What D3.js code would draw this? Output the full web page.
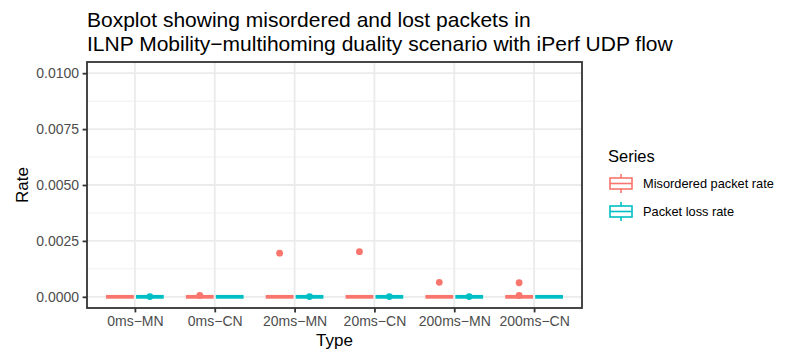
<!DOCTYPE html>
<html>
<head>
<meta charset="utf-8">
<script src="https://cdn.jsdelivr.net/npm/d3@7"></script>
<style>
  body { margin: 0; background: #fff; }
  text { font-family: "Liberation Sans", Arial, Helvetica, sans-serif; }
</style>
</head>
<body>
<div id="chart"></div>
<script>
// categories on the x axis
var types = ['0ms-MN', '0ms-CN', '20ms-MN', '20ms-CN', '200ms-MN', '200ms-CN'];
var seriesNames = ['Misordered packet rate', 'Packet loss rate'];
var seriesColors = ['#F8766D', '#00BFC4'];

// observed rates per run (mostly zero, a few non-zero runs)
var misordered = [
  [0, 0, 0, 0, 0, 0, 0, 0, 0, 0],
  [0, 0, 0, 0, 0, 0, 0, 0, 0, 0.00006],
  [0, 0, 0, 0, 0, 0, 0, 0, 0, 0.00195],
  [0, 0, 0, 0, 0, 0, 0, 0, 0, 0.00202],
  [0, 0, 0, 0, 0, 0, 0, 0, 0, 0.00065],
  [0, 0, 0, 0, 0, 0, 0, 0, 0.00006, 0.00063]
];
var packetLoss = [
  [0, 0, 0, 0, 0, 0, 0, 0, 0, 0.00001],
  [0, 0, 0, 0, 0, 0, 0, 0, 0, 0],
  [0, 0, 0, 0, 0, 0, 0, 0, 0, 0.00001],
  [0, 0, 0, 0, 0, 0, 0, 0, 0, 0.00001],
  [0, 0, 0, 0, 0, 0, 0, 0, 0, 0.00001],
  [0, 0, 0, 0, 0, 0, 0, 0, 0, 0]
];
var yTicks = [0, 0.0025, 0.005, 0.0075, 0.01];
var yMinor = [0.00125, 0.00375, 0.00625, 0.00875];

var width = 787, height = 351;
var panel = {left: 87, right: 582, top: 62, bottom: 308};

var svg = d3.select('#chart').append('svg')
  .attr('width', width)
  .attr('height', height);

var x = d3.scalePoint()
  .domain(types)
  .range([panel.left, panel.right])
  .padding(0.6);

var y = d3.scaleLinear()
  .domain([-0.0005, 0.0105])
  .range([panel.bottom, panel.top]);

//grid
var grid = svg.append('g');
grid.selectAll('.minor')
  .data(yMinor)
  .enter().append('line')
    .attr('x1', panel.left).attr('x2', panel.right)
    .attr('y1', function(d) { return y(d); })
    .attr('y2', function(d) { return y(d); })
    .attr('stroke', '#F0F0F0')
    .attr('stroke-width', 1);
grid.selectAll('.major-y')
  .data(yTicks)
  .enter().append('line')
    .attr('x1', panel.left).attr('x2', panel.right)
    .attr('y1', function(d) { return y(d); })
    .attr('y2', function(d) { return y(d); })
    .attr('stroke', '#EBEBEB')
    .attr('stroke-width', 1.8);
grid.selectAll('.major-x')
  .data(types)
  .enter().append('line')
    .attr('y1', panel.top).attr('y2', panel.bottom)
    .attr('x1', function(d) { return x(d); })
    .attr('x2', function(d) { return x(d); })
    .attr('stroke', '#EBEBEB')
    .attr('stroke-width', 1.8);

//boxplots
var step = x.step();
var boxW = 26;
var allSeries = [misordered, packetLoss];

function boxStats(values) {
  var v = values.slice().sort(d3.ascending);
  var q1 = d3.quantile(v, 0.25), med = d3.quantile(v, 0.5), q3 = d3.quantile(v, 0.75);
  var iqr = q3 - q1;
  var lo = q1 - 1.5 * iqr, hi = q3 + 1.5 * iqr;
  var inside = v.filter(function(d) { return d >= lo && d <= hi; });
  return {
    q1: q1, med: med, q3: q3,
    wlo: d3.min(inside), whi: d3.max(inside),
    out: v.filter(function(d) { return d < lo || d > hi; })
  };
}

allSeries.forEach(function(series, si) {
  var offset = (si === 0 ? -1 : 1) * step * 0.1875;
  var color = seriesColors[si];
  var g = svg.append('g');
  series.forEach(function(values, i) {
    var s = boxStats(values);
    var cx = x(types[i]) + offset;
    g.append('line')
      .attr('x1', cx).attr('x2', cx)
      .attr('y1', y(s.whi)).attr('y2', y(s.q3))
      .attr('stroke', color).attr('stroke-width', 1.8);
    g.append('line')
      .attr('x1', cx).attr('x2', cx)
      .attr('y1', y(s.q1)).attr('y2', y(s.wlo))
      .attr('stroke', color).attr('stroke-width', 1.8);
    g.append('rect')
      .attr('x', cx - boxW / 2)
      .attr('y', y(s.q3))
      .attr('width', boxW)
      .attr('height', y(s.q1) - y(s.q3))
      .attr('fill', 'white')
      .attr('stroke', color)
      .attr('stroke-width', 1.8);
    g.append('line')
      .attr('x1', cx - boxW / 2 - 0.9).attr('x2', cx + boxW / 2 + 0.9)
      .attr('y1', y(s.med)).attr('y2', y(s.med))
      .attr('stroke', color).attr('stroke-width', 3.8);
    g.selectAll('.outlier-' + si + '-' + i)
      .data(s.out)
      .enter().append('circle')
        .attr('cx', cx)
        .attr('cy', function(d) { return y(d); })
        .attr('r', 3.4)
        .attr('fill', color);
  });
});

//panel border
svg.append('rect')
  .attr('x', panel.left).attr('y', panel.top)
  .attr('width', panel.right - panel.left)
  .attr('height', panel.bottom - panel.top)
  .attr('fill', 'none')
  .attr('stroke', '#333333')
  .attr('stroke-width', 1.8);

//axes
var xAxis = svg.append('g')
  .attr('transform', 'translate(0,' + panel.bottom + ')')
  .call(d3.axisBottom(x).tickSize(4.4).tickPadding(3.5));
var yAxis = svg.append('g')
  .attr('transform', 'translate(' + panel.left + ',0)')
  .call(d3.axisLeft(y).tickValues(yTicks).tickSize(4.4).tickPadding(3.5)
    .tickFormat(d3.format('.4f')));
[xAxis, yAxis].forEach(function(a) {
  a.select('.domain').remove();
  a.selectAll('.tick line').attr('stroke', '#333333').attr('stroke-width', 1.8);
  a.selectAll('.tick text')
    .attr('fill', '#4D4D4D')
    .style('font-size', '14px')
    .text(function() { return d3.select(this).text().replace(/-/g, '\u2212'); });
});

//titles
svg.append('text')
  .attr('x', panel.left).attr('y', 27)
  .style('font-size', '21px')
  .text('Boxplot showing misordered and lost packets in');
svg.append('text')
  .attr('x', panel.left).attr('y', 51)
  .style('font-size', '21px')
  .text('ILNP Mobility\u2212multihoming duality scenario with iPerf UDP flow');

svg.append('text')
  .attr('x', (panel.left + panel.right) / 2).attr('y', 346)
  .attr('text-anchor', 'middle')
  .style('font-size', '17px')
  .text('Type');
svg.append('text')
  .attr('transform', 'translate(28,' + (panel.top + panel.bottom) / 2 + ') rotate(-90)')
  .attr('text-anchor', 'middle')
  .style('font-size', '17px')
  .text('Rate');

//legend
var legend = svg.append('g').attr('transform', 'translate(610,0)');
legend.append('text')
  .attr('x', -2).attr('y', 162)
  .style('font-size', '16.5px')
  .text('Series');
seriesNames.forEach(function(name, i) {
  var cy = 183.5 + i * 28;
  var k = legend.append('g');
  k.append('line')
    .attr('x1', 11).attr('x2', 11)
    .attr('y1', cy - 9.5).attr('y2', cy + 9.5)
    .attr('stroke', seriesColors[i]).attr('stroke-width', 1.6);
  k.append('rect')
    .attr('x', 0).attr('y', cy - 5.5)
    .attr('width', 22).attr('height', 11)
    .attr('fill', 'white')
    .attr('stroke', seriesColors[i]).attr('stroke-width', 1.6);
  k.append('line')
    .attr('x1', 0).attr('x2', 22)
    .attr('y1', cy).attr('y2', cy)
    .attr('stroke', seriesColors[i]).attr('stroke-width', 1.6);
  legend.append('text')
    .attr('x', 33).attr('y', cy + 4.5)
    .style('font-size', '12.8px')
    .attr('fill', '#000')
    .text(name);
});
</script>
</body>
</html>
